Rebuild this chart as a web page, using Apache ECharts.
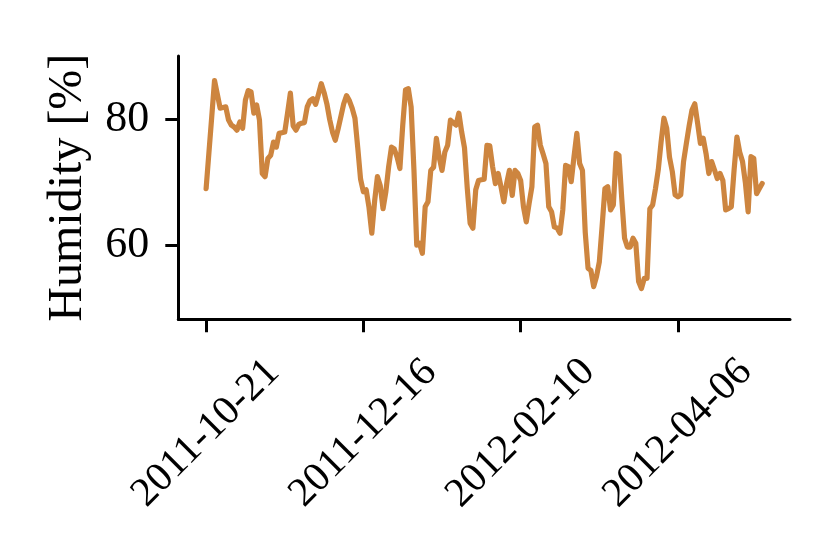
<!DOCTYPE html>
<html>
<head>
<meta charset="utf-8">
<script src="https://cdn.jsdelivr.net/npm/echarts@6/dist/echarts.min.js"></script>
<style>
html,body{margin:0;padding:0;background:#fff;}
#chart{width:830px;height:554px;}
</style>
</head>
<body>
<div id="chart"></div>
<script>
// Daily humidity, starting 2011-10-21 (one value per day)
const startDate = '2011-10-21';
const humidity = [
  69.0, 74.7, 80.4, 86.2, 84.0, 81.8, 81.9, 82.0, 79.9, 79.1,
  78.8, 78.3, 79.6, 78.6, 83.1, 84.6, 84.4, 81.0, 82.3, 79.9,
  71.4, 70.9, 73.8, 74.3, 76.4, 75.6, 77.8, 77.9, 78.0, 81.0,
  84.2, 79.0, 78.3, 79.2, 79.4, 79.5, 82.0, 83.0, 83.3, 82.4,
  84.0, 85.7, 84.3, 82.5, 80.0, 78.0, 76.7, 78.5, 80.5, 82.5,
  83.8, 83.0, 81.8, 80.2, 75.5, 70.5, 68.5, 68.8, 66.0, 61.9,
  67.0, 70.9, 69.5, 65.8, 68.5, 72.5, 75.6, 75.3, 74.0, 72.2,
  79.0, 84.7, 84.9, 82.0, 72.0, 60.0, 60.3, 58.7, 66.1, 66.9,
  71.9, 72.4, 77.0, 74.0, 71.9, 74.8, 75.9, 79.9, 79.5, 79.1,
  81.0, 78.0, 75.5, 69.0, 63.5, 62.7, 68.8, 70.3, 70.4, 70.5,
  75.9, 75.8, 72.5, 69.8, 71.4, 69.3, 66.9, 69.8, 71.9, 67.9,
  71.9, 71.4, 70.3, 66.1, 63.7, 66.6, 69.3, 78.8, 79.1, 75.9,
  74.5, 73.0, 66.1, 65.3, 62.9, 62.7, 61.9, 65.6, 72.7, 72.5,
  70.1, 74.1, 77.8, 73.0, 71.9, 62.0, 56.3, 56.0, 53.4, 55.0,
  57.3, 63.0, 69.0, 69.3, 65.6, 66.4, 74.6, 74.3, 67.4, 61.1,
  59.7, 59.7, 61.1, 60.3, 54.2, 53.1, 54.7, 54.7, 65.8, 66.4,
  69.0, 72.0, 76.4, 80.2, 78.6, 74.0, 71.7, 68.0, 67.7, 68.0,
  73.3, 76.2, 79.0, 81.5, 82.5, 79.4, 76.2, 77.0, 74.6, 71.4,
  73.3, 72.0, 70.6, 71.4, 70.3, 65.6, 65.8, 66.1, 72.0, 77.2,
  74.8, 73.3, 70.0, 65.3, 74.1, 73.8, 68.2, 69.0, 69.8
];
const xTickLabels = ['2011-10-21', '2011-12-16', '2012-02-10', '2012-04-06'];
const yTickValues = [60, 80];

const DAY = 86400000;
const t0 = Date.parse(startDate + 'T00:00:00Z');
const dayIndex = d => Math.round((Date.parse(d + 'T00:00:00Z') - t0) / DAY);
const xTickValues = xTickLabels.map(dayIndex);
const seriesData = humidity.map((v, i) => [i, v]);
const n = humidity.length - 1;
const pad = 0.05 * n;

const FONT = '"Liberation Serif", "Times New Roman", serif';
const chart = echarts.init(document.getElementById('chart'), null, {renderer: 'canvas'});
chart.setOption({
  animation: false,
  backgroundColor: '#ffffff',
  grid: {left: 178.3, right: 40, top: 56, bottom: 234.7, containLabel: false},
  xAxis: {
    type: 'value',
    min: -pad,
    max: n + pad,
    splitLine: {show: false},
    axisLine: {show: true, onZero: false, lineStyle: {color: '#000', width: 3}},
    axisTick: {show: true, customValues: xTickValues, length: 13, lineStyle: {color: '#000', width: 3}},
    axisLabel: {
      show: true,
      customValues: xTickValues,
      rotate: 45,
      align: 'center',
      verticalAlign: 'middle',
      margin: 114,
      fontFamily: FONT,
      fontSize: 41,
      color: '#000',
      formatter: v => xTickLabels[xTickValues.indexOf(Math.round(v))] || ''
    }
  },
  yAxis: {
    type: 'value',
    min: 48.2,
    max: 90.1,
    name: 'Humidity [%]',
    nameLocation: 'middle',
    nameGap: 86,
    nameTextStyle: {fontFamily: FONT, fontSize: 48, color: '#000'},
    splitLine: {show: false},
    axisLine: {show: true, onZero: false, lineStyle: {color: '#000', width: 3}},
    axisTick: {show: true, customValues: yTickValues, length: 13, lineStyle: {color: '#000', width: 3}},
    axisLabel: {
      show: true,
      customValues: yTickValues,
      margin: 29,
      fontFamily: FONT,
      fontSize: 44,
      color: '#000'
    }
  },
  series: [{
    type: 'line',
    data: seriesData,
    showSymbol: false,
    symbol: 'none',
    lineStyle: {color: '#CD853F', width: 5.2, join: 'round', cap: 'round'},
    itemStyle: {color: '#CD853F'}
  }]
});
</script>
</body>
</html>
